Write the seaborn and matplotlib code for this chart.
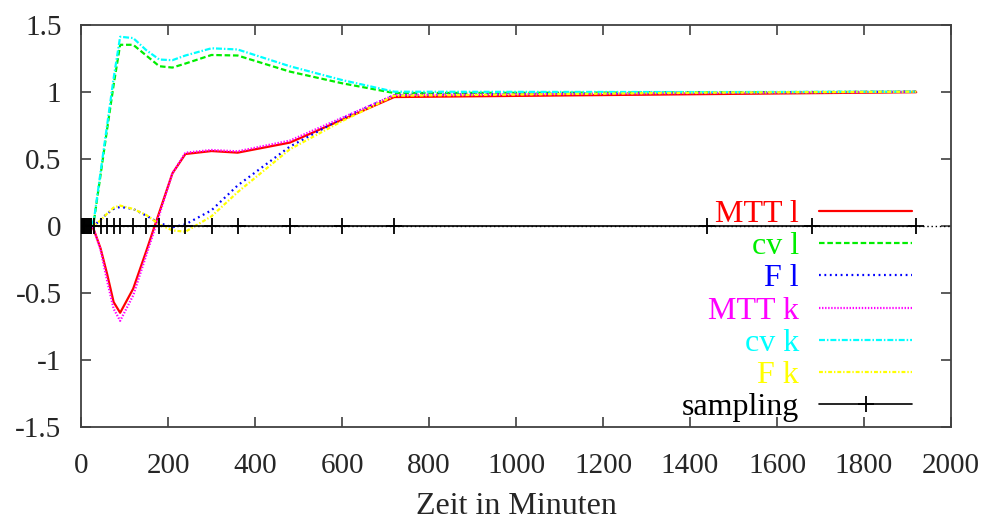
import matplotlib
matplotlib.use("Agg")
import matplotlib.pyplot as plt
import seaborn as sns
import pandas as pd

# Time grid (minutes) of the model curves
t_curve = [0, 25, 30, 45, 60, 75, 90, 120, 150, 180, 210, 240, 300, 360, 480, 600, 720, 1440, 1920]

mtt_l = [0, 0, -0.035, -0.17, -0.36, -0.57, -0.65, -0.47, -0.19, 0.10, 0.39, 0.535, 0.557, 0.545, 0.62, 0.79, 0.96, 0.982, 0.996]
cv_l  = [0, 0, 0.04, 0.38, 0.72, 1.05, 1.35, 1.35, 1.27, 1.19, 1.18, 1.21, 1.274, 1.27, 1.15, 1.063, 0.99, 0.995, 1.0]
f_l   = [0, 0, 0.0, 0.045, 0.09, 0.125, 0.14, 0.125, 0.075, 0.02, -0.012, 0.01, 0.115, 0.30, 0.59, 0.80, 0.975, 0.995, 1.0]
mtt_k = [0, 0, -0.035, -0.18, -0.41, -0.62, -0.71, -0.52, -0.22, 0.08, 0.39, 0.545, 0.565, 0.555, 0.635, 0.805, 0.975, 0.99, 1.0]
cv_k  = [0, 0, 0.05, 0.40, 0.75, 1.10, 1.41, 1.40, 1.31, 1.24, 1.235, 1.27, 1.324, 1.315, 1.19, 1.087, 1.0, 0.997, 1.0]
f_k   = [0, 0, 0.0, 0.04, 0.09, 0.135, 0.15, 0.125, 0.08, 0.01, -0.035, -0.045, 0.07, 0.25, 0.57, 0.78, 0.97, 0.993, 1.0]

# Sampling times (minutes)
sample_times = [0, 2, 4, 6, 8, 10, 12, 14, 16, 18, 20, 22, 24, 30, 45, 60, 75, 90, 120, 150,
                180, 210, 240, 300, 360, 480, 600, 720, 1440, 1680, 1920]
sample_level = 0.0

x_ticks = [0, 200, 400, 600, 800, 1000, 1200, 1400, 1600, 1800, 2000]
y_ticks = [-1.5, -1, -0.5, 0, 0.5, 1, 1.5]
y_tick_labels = ["-1.5", "-1", "-0.5", "0", "0.5", "1", "1.5"]

sns.set_style("ticks")
plt.rcParams["font.family"] = ["Liberation Serif", "DejaVu Serif"]
plt.rcParams["lines.scale_dashes"] = False

fig = plt.figure(figsize=(9.89, 5.22), dpi=100)
ax = fig.add_axes([0.0819, 0.1826, 0.8797, 0.7701])

# dotted zero axis across the whole plot
ax.axhline(0, color="black", lw=1.0, ls=(0, (1, 2)), zorder=1)

series = [
    ("MTT l", mtt_l, "#ff0000", "-"),
    ("cv l", cv_l, "#00ee00", (0, (4.0, 2.0))),
    ("F l", f_l, "#0000ff", (0, (1.3, 2.6))),
    ("MTT k", mtt_k, "#ff00ff", (0, (1.0, 1.2))),
    ("cv k", cv_k, "#00ffff", (0, (4.3, 1.4, 1.1, 1.4))),
    ("F k", f_k, "#ffff00", (0, (2.8, 1.4, 1.0, 1.4))),
]

for i, (name, vals, col, ls) in enumerate(series):
    df = pd.DataFrame({"t": t_curve, "v": vals})
    sns.lineplot(data=df, x="t", y="v", ax=ax, color=col, lw=1.6,
                 linestyle=ls, label=name, zorder=3 + i, sort=False)

samp = pd.DataFrame({"t": sample_times, "v": [sample_level] * len(sample_times)})
sns.lineplot(data=samp, x="t", y="v", ax=ax, color="black", lw=1.2, marker="+",
             markersize=12, markeredgewidth=1.3, markeredgecolor="black",
             markerfacecolor="black", label="sampling", zorder=10, sort=False)

ax.set_xlim(0, 2000)
ax.set_ylim(-1.5, 1.5)
ax.set_xticks(x_ticks)
ax.set_xticklabels([str(v) for v in x_ticks])
ax.set_yticks(y_ticks)
ax.set_yticklabels(y_tick_labels)
ax.set_xlabel("Zeit in Minuten", fontsize=23, labelpad=9)
ax.set_ylabel("")

for sp in ax.spines.values():
    sp.set_visible(True)
    sp.set_color("#404040")
    sp.set_linewidth(1.3)
ax.tick_params(axis="both", which="major", direction="in", length=7, width=1.2,
               color="#404040", labelsize=21, top=True, right=True)
ax.tick_params(axis="x", pad=19)
ax.tick_params(axis="y", pad=14)

leg = ax.legend(loc="lower right", bbox_to_anchor=(0.977, -0.037), frameon=False,
                markerfirst=False, labelcolor="linecolor", fontsize=23,
                handlelength=2.9, handletextpad=0.63, labelspacing=0.09,
                borderaxespad=0.2, numpoints=1)
for txt in leg.get_texts():
    txt.set_ha("right")

fig.savefig("out.png", dpi=100)
